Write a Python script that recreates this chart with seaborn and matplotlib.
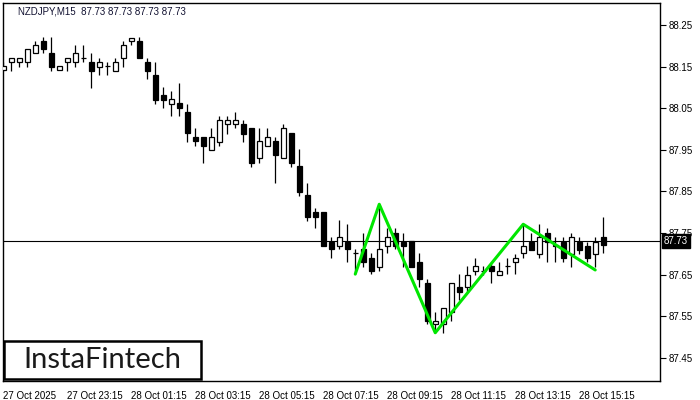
import numpy as np
import pandas as pd
import matplotlib
matplotlib.use("Agg")
import matplotlib.pyplot as plt
from matplotlib.patches import Rectangle
import seaborn as sns

# NZDJPY M15 candles
opens = [88.141, 88.160, 88.160, 88.160, 88.182, 88.212, 88.182, 88.141, 88.160, 88.160,
         88.170, 88.160, 88.150, 88.151, 88.140, 88.170, 88.211, 88.212, 88.160, 88.131,
         88.081, 88.061, 88.062, 88.041, 87.980, 87.980, 87.950, 87.969, 88.011, 88.011,
         88.011, 88.002, 87.930, 87.960, 87.970, 87.930, 87.990, 87.911, 87.841, 87.800,
         87.800, 87.729, 87.719, 87.729, 87.701, 87.711, 87.689, 87.669, 87.719, 87.750,
         87.729, 87.730, 87.680, 87.629, 87.530, 87.530, 87.559, 87.619, 87.619, 87.659,
         87.659, 87.670, 87.650, 87.670, 87.680, 87.701, 87.729, 87.700, 87.750, 87.721,
         87.729, 87.700, 87.729, 87.719, 87.700, 87.740]
highs = [88.160, 88.170, 88.170, 88.192, 88.212, 88.221, 88.221, 88.151, 88.170, 88.202,
         88.202, 88.182, 88.170, 88.160, 88.170, 88.212, 88.220, 88.221, 88.170, 88.160,
         88.100, 88.091, 88.110, 88.061, 88.002, 87.981, 88.002, 88.031, 88.031, 88.040,
         88.022, 88.002, 88.002, 88.002, 87.980, 88.011, 87.990, 87.952, 87.869, 87.809,
         87.800, 87.740, 87.781, 87.771, 87.711, 87.750, 87.701, 87.819, 87.761, 87.761,
         87.750, 87.730, 87.701, 87.639, 87.559, 87.569, 87.629, 87.651, 87.670, 87.690,
         87.670, 87.680, 87.680, 87.689, 87.699, 87.771, 87.750, 87.771, 87.761, 87.740,
         87.740, 87.750, 87.740, 87.729, 87.740, 87.789]
lows = [88.140, 88.140, 88.150, 88.150, 88.182, 88.182, 88.140, 88.141, 88.140, 88.150,
        88.160, 88.099, 88.130, 88.131, 88.140, 88.150, 88.201, 88.170, 88.121, 88.061,
        88.050, 88.031, 88.031, 87.969, 87.960, 87.919, 87.950, 87.960, 87.989, 88.002,
        87.969, 87.909, 87.919, 87.960, 87.869, 87.930, 87.909, 87.840, 87.779, 87.761,
        87.719, 87.689, 87.711, 87.679, 87.651, 87.669, 87.651, 87.659, 87.701, 87.711,
        87.669, 87.669, 87.621, 87.530, 87.510, 87.509, 87.539, 87.589, 87.609, 87.650,
        87.650, 87.629, 87.650, 87.651, 87.651, 87.689, 87.710, 87.689, 87.680, 87.680,
        87.680, 87.669, 87.700, 87.680, 87.669, 87.701]
closes = [88.151, 88.170, 88.170, 88.192, 88.202, 88.192, 88.150, 88.151, 88.170, 88.182,
          88.170, 88.140, 88.160, 88.151, 88.160, 88.201, 88.220, 88.170, 88.140, 88.070,
          88.070, 88.071, 88.050, 87.990, 87.970, 87.960, 87.980, 88.022, 88.022, 88.022,
          87.989, 87.919, 87.970, 87.980, 87.938, 88.002, 87.919, 87.849, 87.789, 87.789,
          87.719, 87.711, 87.740, 87.711, 87.701, 87.679, 87.659, 87.711, 87.740, 87.719,
          87.719, 87.669, 87.639, 87.539, 87.539, 87.569, 87.629, 87.609, 87.650, 87.670,
          87.659, 87.659, 87.659, 87.670, 87.689, 87.719, 87.710, 87.740, 87.729, 87.719,
          87.689, 87.740, 87.710, 87.689, 87.729, 87.720]

time_labels = ["27 Oct 2025", "27 Oct 23:15", "28 Oct 01:15", "28 Oct 03:15", "28 Oct 05:15",
               "28 Oct 07:15", "28 Oct 09:15", "28 Oct 11:15", "28 Oct 13:15", "28 Oct 15:15"]
time_ticks = [0, 8, 16, 24, 32, 40, 48, 56, 64, 72]
price_ticks = [87.45, 87.55, 87.65, 87.75, 87.85, 87.95, 88.05, 88.15, 88.25]

# pattern drawn in green (bar index, price)
pattern_bars = [44, 47, 54, 65, 74]
pattern_prices = [87.651, 87.819, 87.510, 87.771, 87.661]

bid = 87.73

df = pd.DataFrame({"open": opens, "high": highs, "low": lows, "close": closes})
df["x"] = np.arange(len(df))
up = df[df.close > df.open]
down = df[df.close < df.open]
doji = df[df.close == df.open]

sns.set_theme(style="white")
plt.rcParams["font.family"] = ["Liberation Sans", "DejaVu Sans"]

fig = plt.figure(figsize=(7, 4), dpi=100)
ax = fig.add_axes([3 / 700, 19 / 400, 657 / 700, 378 / 400])

w = 0.6
ax.vlines(df.x, df.low, df.high, color="black", lw=0.9, zorder=2)
ax.bar(up.x, up.close - up.open, bottom=up.open, width=w, color="white",
       edgecolor="black", lw=0.9, zorder=3)
ax.bar(down.x, down.open - down.close, bottom=down.close, width=w, color="black",
       edgecolor="black", lw=0.9, zorder=3)
ax.hlines(doji.close, doji.x - w / 2, doji.x + w / 2, color="black", lw=0.9, zorder=3)

ax.axhline(bid, color="black", lw=0.8, zorder=1)

pat = pd.DataFrame({"bar": pattern_bars, "price": pattern_prices})
sns.lineplot(data=pat, x="bar", y="price", sort=False, color="#00e600", lw=2.2, ax=ax, zorder=4)

ax.set_xlim(-0.04, 82.1)
ax.set_ylim(87.394, 88.303)

ax.yaxis.tick_right()
ax.set_yticks(price_ticks)
ax.set_yticklabels([f"{p:.2f}" for p in price_ticks])
ax.set_xticks(time_ticks)
ax.set_xticklabels(time_labels, ha="left")
ax.tick_params(axis="both", direction="out", length=4, width=0.8, colors="black",
               labelsize=7, pad=2)
ax.tick_params(axis="x", pad=3)
ax.set_xlabel("")
ax.set_ylabel("")
for s in ax.spines.values():
    s.set_color("black")
    s.set_linewidth(1)

# current price tag
ax.text(1.006, bid, "87.73", transform=ax.get_yaxis_transform(), va="center", ha="left",
        fontsize=7, color="white", zorder=6, clip_on=False,
        bbox=dict(boxstyle="square,pad=0.2", fc="black", ec="black"))

fig.text(18 / 700, 1 - 11 / 400, "NZDJPY,M15  87.73 87.73 87.73 87.73", fontsize=7,
         color="#101030", va="center", ha="left")

# logo box
fig.patches.append(Rectangle((3.5 / 700, 1 - 379 / 400), 197 / 700, 38 / 400,
                             transform=fig.transFigure, fc="white", ec="black", lw=1.8,
                             zorder=5))
fig.text(102 / 700, 1 - 360 / 400, "InstaFintech", fontsize=21, family=["Lato", "DejaVu Sans"],
         color="#1a1a1a", ha="center", va="center", zorder=6)

fig.savefig("out.png", dpi=100, facecolor="white")
